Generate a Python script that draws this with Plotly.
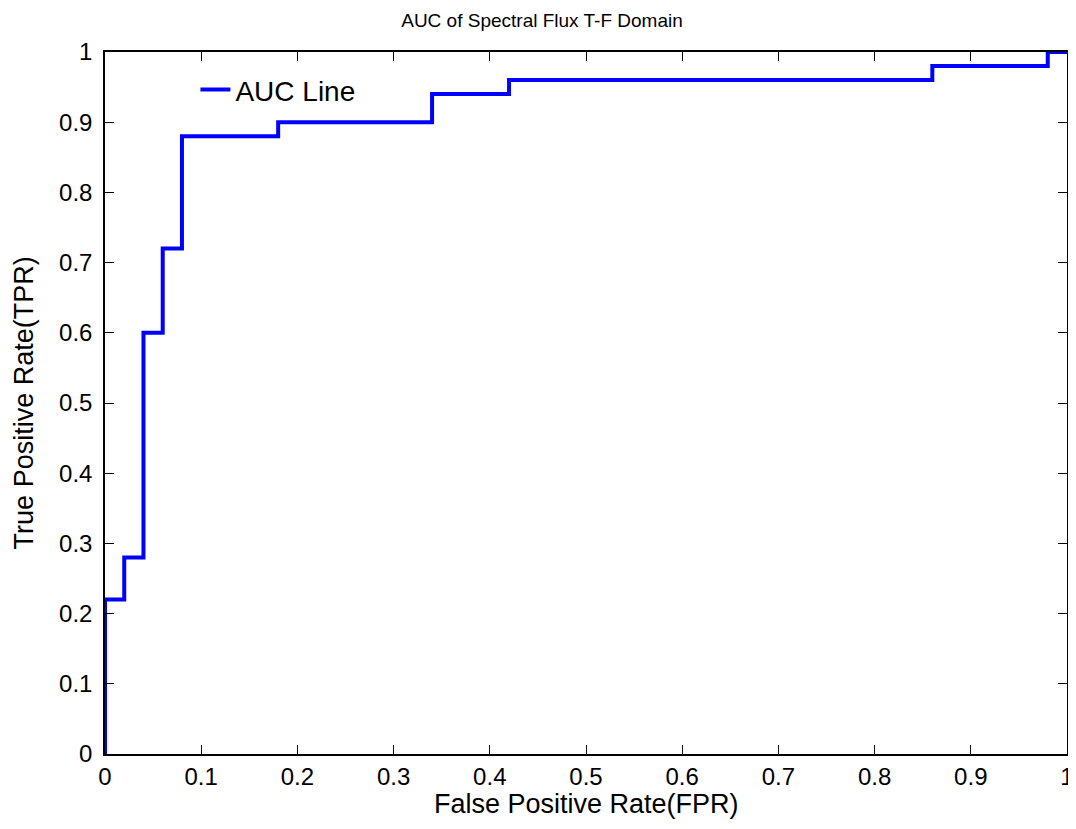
import plotly.graph_objects as go

fpr = [0.0, 0.0, 0.02, 0.04, 0.06, 0.08, 0.18, 0.34, 0.42, 0.86, 0.98, 1.0]
tpr = [0.0, 0.22, 0.28, 0.60, 0.72, 0.88, 0.90, 0.94, 0.96, 0.98, 1.0, 1.0]
ticks = [0, 0.1, 0.2, 0.3, 0.4, 0.5, 0.6, 0.7, 0.8, 0.9, 1]
tick_labels = ["0", "0.1", "0.2", "0.3", "0.4", "0.5", "0.6", "0.7", "0.8", "0.9", "1"]

FONT = "Liberation Sans, Arial, sans-serif"

fig = go.Figure()
fig.add_trace(go.Scatter(
    x=fpr, y=tpr, mode="lines", name="AUC Line",
    line=dict(color="#0000FF", width=4, shape="hv"),
))

axis_common = dict(
    range=[0, 1], tickmode="array", tickvals=ticks, ticktext=tick_labels,
    ticks="inside", ticklen=9, tickwidth=1, tickcolor="#000000",
    showline=True, linecolor="#000000", linewidth=1.5, mirror="ticks",
    showgrid=False, zeroline=False, ticklabeloverflow="allow",
    automargin=False,
    tickfont=dict(family=FONT, size=24, color="#000000"),
)

fig.update_layout(
    width=1068, height=821,
    paper_bgcolor="white", plot_bgcolor="white",
    margin=dict(l=97, r=9, t=44, b=75),
    title=dict(text="AUC of Spectral Flux T-F Domain", x=0.5, xanchor="center",
               y=0.993, yanchor="top", pad=dict(t=0),
               font=dict(family=FONT, size=19, color="#000000")),
    xaxis=dict(**axis_common, ticklabelstandoff=0),
    yaxis=dict(**axis_common, ticklabelstandoff=6),
    showlegend=True,
    legend=dict(x=0.094, y=0.946, xanchor="left", yanchor="middle",
                bgcolor="rgba(255,255,255,0)", borderwidth=0,
                font=dict(family=FONT, size=28, color="#000000")),
    annotations=[
        dict(text="False Positive Rate(FPR)", xref="paper", yref="paper",
             x=0.5, y=-0.0712, xanchor="center", yanchor="middle",
             showarrow=False, font=dict(family=FONT, size=27, color="#000000")),
        dict(text="True Positive Rate(TPR)", xref="paper", yref="paper",
             x=-0.0838, y=0.5, xanchor="center", yanchor="middle", textangle=-90,
             showarrow=False, font=dict(family=FONT, size=27, color="#000000")),
    ],
)

fig.write_html("out.html")
